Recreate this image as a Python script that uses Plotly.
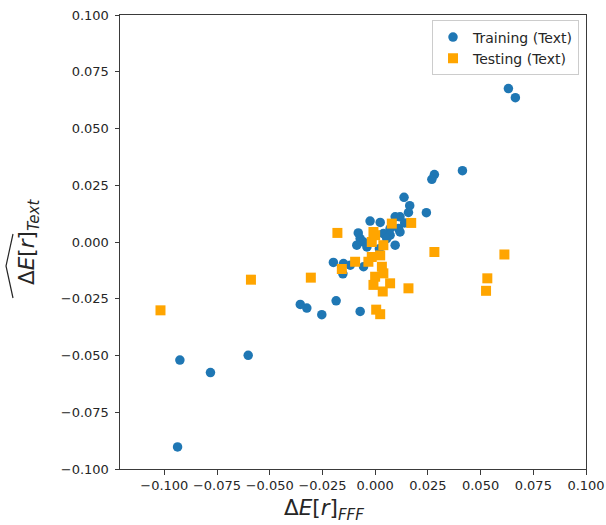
import plotly.graph_objects as go

# Training set: (ΔE[r]_FFF, predicted ΔE[r]_Text)
train_x = [0.0632, 0.0665, 0.0414, 0.0281, 0.0269, 0.0137, 0.0164, 0.0158, 0.0243, 0.0118,
           0.0095, -0.0024, 0.0024, 0.0071, 0.0111, 0.0118, 0.0140, 0.0039, 0.0071, 0.0055,
           0.0095, -0.0071, -0.0055, -0.0087, -0.0039, 0.0020, -0.0080, -0.0198, -0.0150, -0.0118,
           -0.0055, -0.0153, -0.0071, -0.0185, -0.0253, -0.0324, -0.0355, -0.0602, -0.0926, -0.0781,
           -0.0937]
train_y = [0.0676, 0.0636, 0.0314, 0.0297, 0.0276, 0.0197, 0.0160, 0.0130, 0.0129, 0.0111,
           0.0111, 0.0092, 0.0086, 0.0059, 0.0059, 0.0044, 0.0084, 0.0037, 0.0030, 0.0015,
           -0.0014, 0.0015, 0.0000, -0.0014, -0.0022, -0.0030, 0.0040, -0.0090, -0.0095, -0.0102,
           -0.0109, -0.0140, -0.0306, -0.0259, -0.0320, -0.0291, -0.0275, -0.0499, -0.0520, -0.0575,
           -0.0903]

# Testing set
test_x = [-0.1018, -0.0589, -0.0305, -0.0179, -0.0158, -0.0095, -0.0032, -0.0016, 0.0024, -0.0016,
          0.0000, -0.0008, 0.0039, 0.0079, 0.0171, 0.0032, 0.0039, 0.0000, -0.0008, 0.0071,
          0.0036, 0.0158, 0.0281, 0.0613, 0.0532, 0.0526, 0.0005, 0.0024]
test_y = [-0.0301, -0.0166, -0.0157, 0.0040, -0.0119, -0.0087, -0.0087, -0.0066, -0.0059, 0.0000,
          0.0030, 0.0044, -0.0014, 0.0081, 0.0084, -0.0109, -0.0138, -0.0153, -0.0189, -0.0182,
          -0.0218, -0.0204, -0.0044, -0.0055, -0.0160, -0.0215, -0.0298, -0.0318]

tick_vals = [-0.1, -0.075, -0.05, -0.025, 0.0, 0.025, 0.05, 0.075, 0.1]


def fmt(v):
    s = f"{abs(v):.3f}"
    return ("\u2212" + s) if v < 0 else s


tick_text = [fmt(v) for v in tick_vals]

FONT = "DejaVu Sans"
AXIS_COLOR = "#3a3a3a"
TEXT_COLOR = "#262626"

fig = go.Figure()
fig.add_trace(go.Scatter(
    x=train_x, y=train_y, mode="markers", name="Training (Text)",
    marker=dict(symbol="circle", size=9.5, color="#1f77b4", line=dict(width=0)),
))
fig.add_trace(go.Scatter(
    x=test_x, y=test_y, mode="markers", name="Testing (Text)",
    marker=dict(symbol="square", size=10, color="#ffa500", line=dict(width=0)),
))

L, R, T, B = 120, 20, 15, 56
W, H = 606, 525
pw, ph = W - L - R, H - T - B


def px_to_paper(px, py):
    return (px - L) / pw, (H - B - py) / ph


axis_common = dict(
    showgrid=False, zeroline=False, showline=True, mirror=True, automargin=False,
    linecolor=AXIS_COLOR, linewidth=1, ticks="outside", ticklen=4.5,
    tickwidth=1, tickcolor=AXIS_COLOR, tickvals=tick_vals, ticktext=tick_text,
    tickfont=dict(family=FONT, size=13, color=TEXT_COLOR),
)

fig.update_layout(
    width=W, height=H,
    margin=dict(l=L, r=R, t=T, b=B, pad=0),
    paper_bgcolor="white", plot_bgcolor="white",
    font=dict(family=FONT, color=TEXT_COLOR),
    xaxis=dict(range=[-0.121, 0.100], **axis_common),
    yaxis=dict(range=[-0.100, 0.100], ticklabelstandoff=3, **axis_common),
    showlegend=True,
    legend=dict(
        x=0.985, y=0.988, xanchor="right", yanchor="top",
        bgcolor="rgba(255,255,255,0.85)", bordercolor="#cccccc", borderwidth=1,
        font=dict(family=FONT, size=14, color=TEXT_COLOR),
        tracegroupgap=0, itemwidth=30,
    ),
)

# Axis labels
lx, ly = px_to_paper(282, 509)
fig.add_annotation(
    xref="paper", yref="paper", x=lx, y=ly, xanchor="left", yanchor="middle",
    text="Δ<i>E</i>[<i>r</i>]<sub><i>FFF</i></sub>", showarrow=False,
    font=dict(family=FONT, size=21.5, color=TEXT_COLOR),
)
yx, yy = px_to_paper(28, 242)
fig.add_annotation(
    xref="paper", yref="paper", x=yx, y=yy, xanchor="center", yanchor="middle",
    text="Δ<i>E</i>[<i>r</i>]<sub><i>Text</i></sub>", showarrow=False, textangle=-90,
    font=dict(family=FONT, size=21.5, color=TEXT_COLOR),
)

# Wide hat over the y label
h0 = px_to_paper(13, 298)
h1 = px_to_paper(6, 266)
h2 = px_to_paper(13, 234)
fig.add_shape(
    type="path", xref="paper", yref="paper",
    path=f"M {h0[0]},{h0[1]} L {h1[0]},{h1[1]} L {h2[0]},{h2[1]}",
    line=dict(color=TEXT_COLOR, width=1.2),
)

fig.write_html("out.html")
